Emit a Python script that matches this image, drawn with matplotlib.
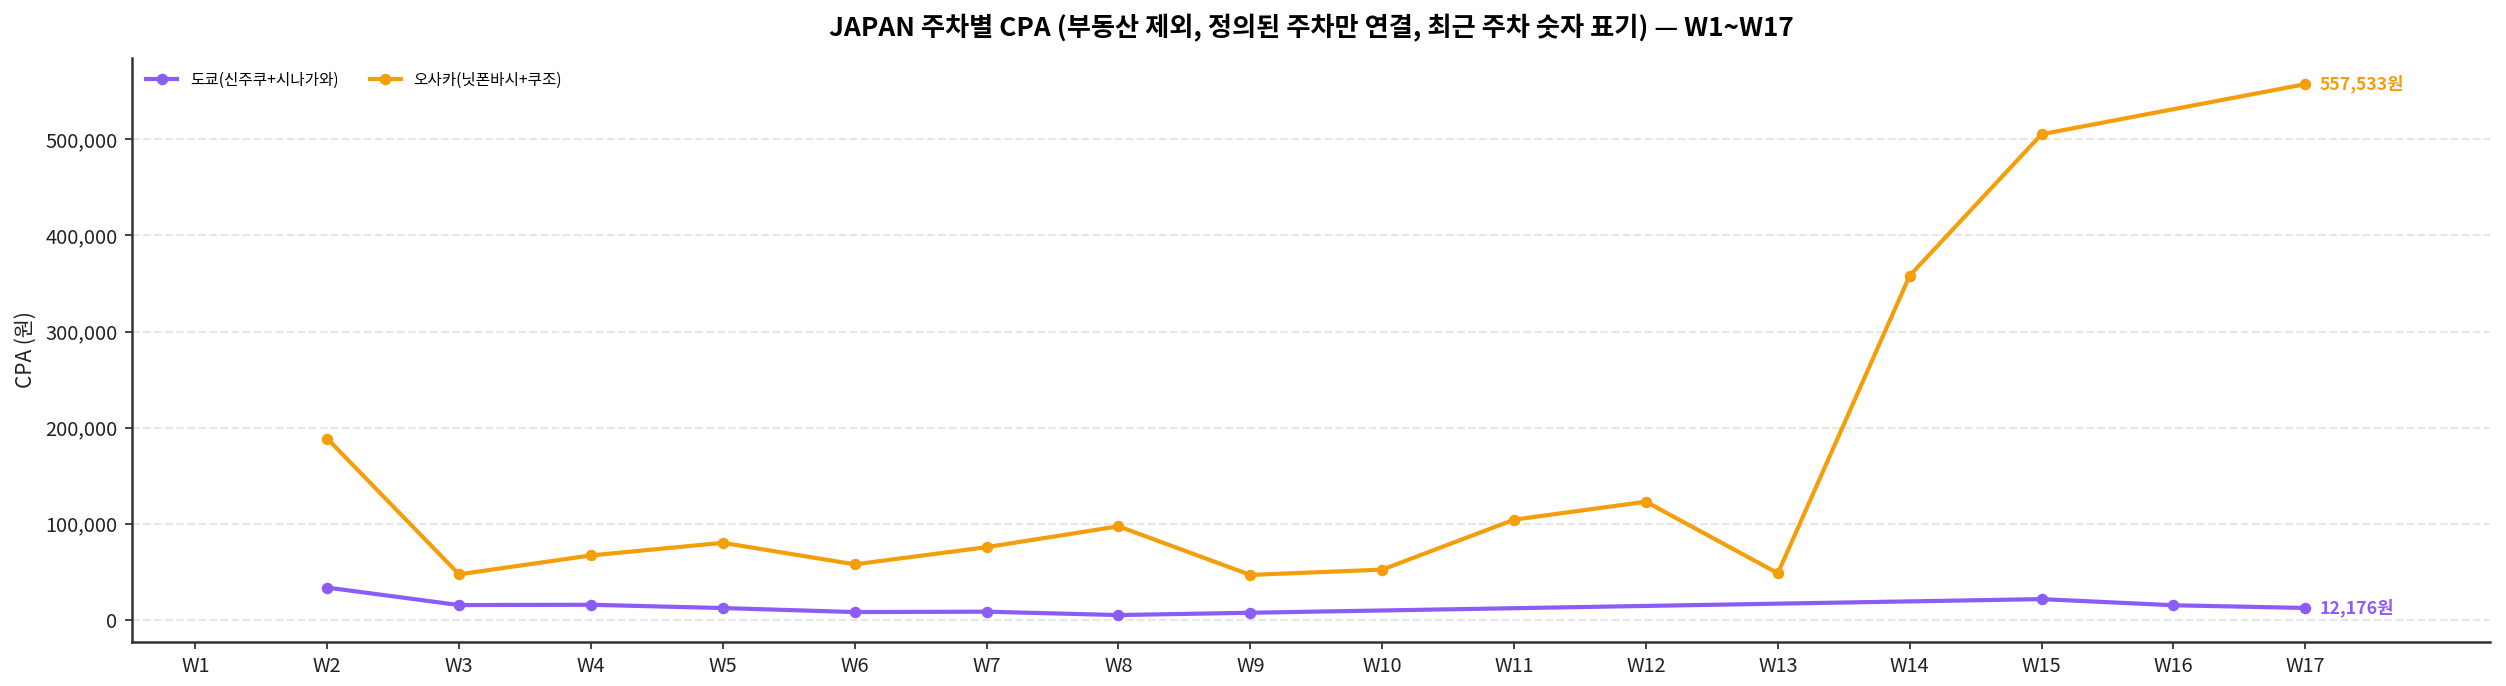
import numpy as np
import matplotlib
matplotlib.use("Agg")
import matplotlib.pyplot as plt
from matplotlib.ticker import FuncFormatter

plt.rcParams['font.family'] = ['Noto Sans CJK KR', 'DejaVu Sans']

weeks = [f"W{i}" for i in range(1, 18)]
tokyo_label = "도쿄(신주쿠+시나가와)"
osaka_label = "오사카(닛폰바시+쿠조)"
tokyo = [None, 33400, 15200, 15500, 12100, 7900, 8300, 4800, 7200,
         None, None, None, None, None, 21400, 15000, 12176]
osaka = [None, 188600, 47200, 66900, 80000, 57600, 75500, 97200, 46600,
         52100, 104100, 122800, 48300, 358200, 505400, None, 557533]
c_tokyo = "#8B5CF6"
c_osaka = "#F59E0B"

W, H, DPI = 2506, 686, 150
fig = plt.figure(figsize=(W / DPI, H / DPI), dpi=DPI)
ax = fig.add_axes([132 / W, 1 - 641.6 / H, (2490 - 132) / W, (641.6 - 57.6) / H])

x = np.arange(len(weeks))
for vals, col, lab in [(tokyo, c_tokyo, tokyo_label), (osaka, c_osaka, osaka_label)]:
    xs = [xi for xi, v in zip(x, vals) if v is not None]
    ys = [v for v in vals if v is not None]
    ax.plot(xs, ys, color=col, lw=2, marker='o', ms=4.5, label=lab)
    ax.annotate(f"{ys[-1]:,}원", (xs[-1], ys[-1]), xytext=(7, 0),
                textcoords='offset points', ha='left', va='center',
                color=col, fontsize=8.5, fontweight='bold')

ax.set_xticks(x)
ax.set_xticklabels(weeks)
ax.set_xlim(-0.48, 17.4)
ax.yaxis.set_major_formatter(FuncFormatter(lambda v, p: f"{int(v):,}"))
ax.tick_params(labelsize=9.6, colors='#222222')
ax.set_ylabel("CPA (원)", fontsize=10, color='#222222')
ax.grid(axis='y', linestyle='--', color='#e6e6e6', lw=1)
ax.set_axisbelow(True)
for s in ['top', 'right']:
    ax.spines[s].set_visible(False)
for s in ['left', 'bottom']:
    ax.spines[s].set_color('#333333')
    ax.spines[s].set_linewidth(1.2)
ax.legend(loc='upper left', ncol=2, frameon=False, fontsize=7.5)
ax.set_title("JAPAN 주차별 CPA (부동산 제외, 정의된 주차만 연결, 최근 주차 숫자 표기) — W1~W17",
             fontsize=12.6, fontweight='bold', pad=10)
fig.savefig("out.png", dpi=DPI)
